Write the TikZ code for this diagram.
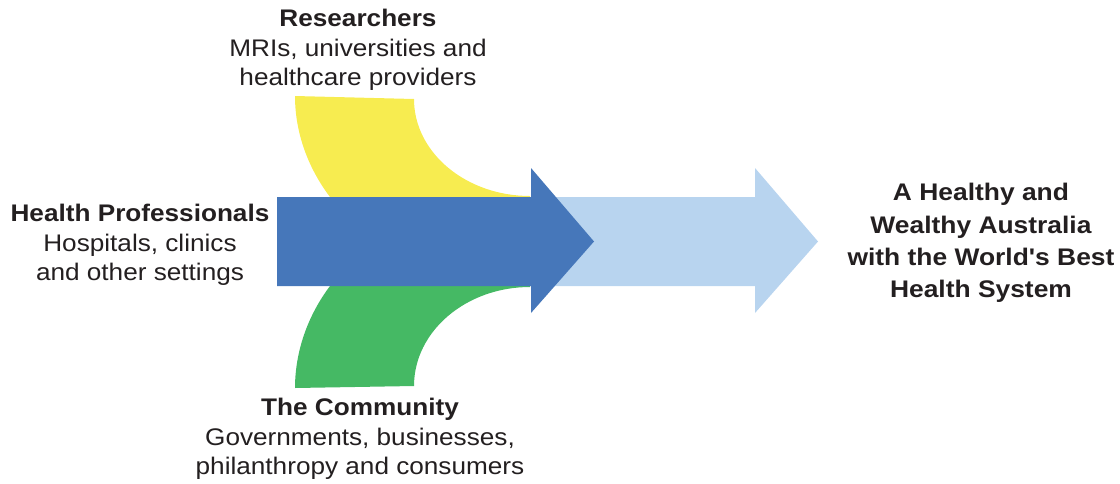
\documentclass[tikz,border=0pt]{standalone}
\usepackage{fontspec}
\setmainfont{Liberation Sans}[FakeStretch=1.09]
\newfontfamily\goalfont{Liberation Sans}[FakeStretch=1.1]
\begin{document}
\begin{tikzpicture}[x=1pt,y=-1pt,
  txt/.style={text=textgray,align=center,inner sep=0pt,font=\fontsize{24}{29.7}\selectfont},
  goal/.style={text=textgray,align=center,inner sep=0pt,font=\goalfont\fontsize{24}{32.3}\selectfont\bfseries}]
\definecolor{textgray}{HTML}{231F20}
\definecolor{yel}{HTML}{F7EC50}
\definecolor{grn}{HTML}{45B964}
\definecolor{dblue}{HTML}{4677BA}
\definecolor{lblue}{HTML}{B8D4EF}
\useasboundingbox (0,0) rectangle (1120,483);
% light blue arrow
\fill[lblue] (540,197) -- (755,197) -- (755,168) -- (818,241.5) -- (755,313) -- (755,286) -- (540,286) -- cycle;
% yellow band
\fill[yel] (295,96) -- (414,99) .. controls (414,152.6) and (466,196) .. (530,196)
  -- (530,205) -- (330,205) -- (330,197) .. controls (307.2,166.8) and (295,131.5) .. (295,96) -- cycle;
% green band
\fill[grn] (295,388) -- (414,386) .. controls (414,331.3) and (466,287) .. (530,287)
  -- (530,278) -- (330,278) -- (330,286) .. controls (307.2,316.3) and (295,352.5) .. (295,388) -- cycle;
% dark blue arrow
\fill[dblue] (277,197) -- (531,197) -- (531,168) -- (594,241.5) -- (531,313) -- (531,286) -- (277,286) -- cycle;
% texts
\node[txt] (res) at (358,50) {\textbf{Researchers}\\MRIs, universities and\\healthcare providers};
\node[txt] (hp) at (140,245) {\textbf{Health Professionals}\\Hospitals, clinics\\and other settings};
\node[txt] (com) at (360,439) {\textbf{The Community}\\Governments, businesses,\\philanthropy and consumers};
\node[goal] (goal) at (981,243) {A Healthy and\\Wealthy Australia\\with the World's Best\\Health System};
\end{tikzpicture}
\end{document}
